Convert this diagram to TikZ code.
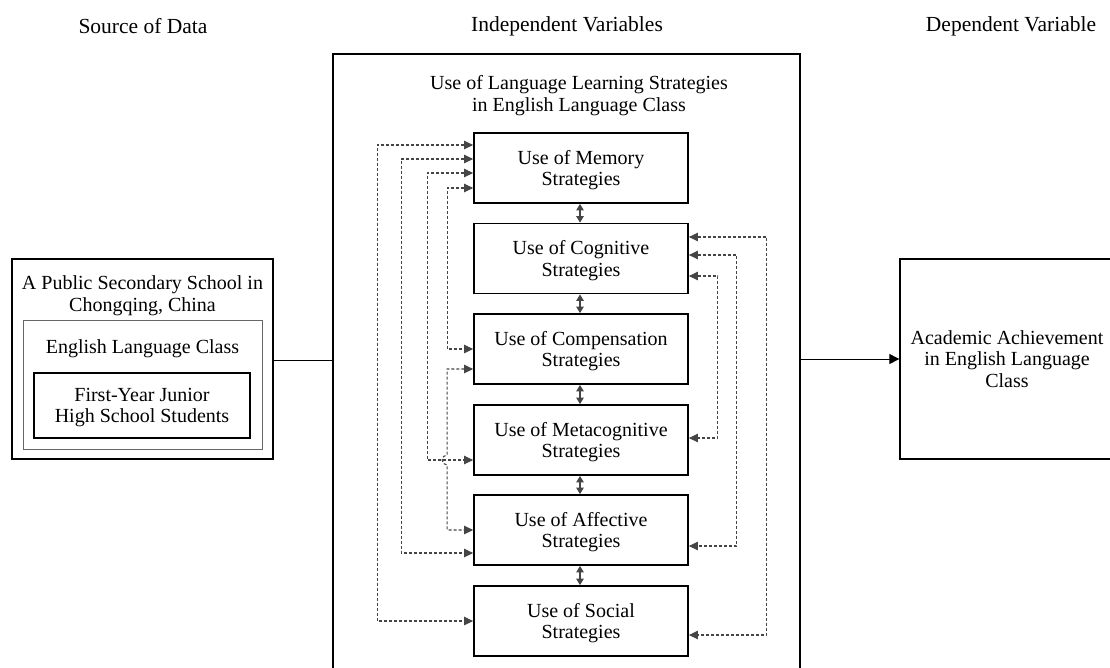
\documentclass[tikz,border=0pt]{standalone}
\usepackage{fontspec}
\setmainfont{Liberation Serif}
\usetikzlibrary{arrows.meta}
\definecolor{dgray}{HTML}{454545}
\tikzset{
  box/.style={draw=black, line width=1.3pt, inner sep=0pt, align=center},
  strat/.style={draw=black, line width=1.8pt, inner sep=0pt, align=center, minimum width=214pt, minimum height=70pt, text depth=-4pt},
  lbl/.style={inner sep=0pt, align=center},
  hdr/.style={inner sep=0pt, align=center, font=\fontsize{21.5}{23}\selectfont},
  dconn/.style={draw=dgray, line width=1.1pt, dash pattern=on 3pt off 2pt, {Triangle[length=9pt,width=8.5pt]}-{Triangle[length=9pt,width=8.5pt]}},
  dbl/.style={draw=dgray, line width=1.1pt, {Triangle[length=6.5pt,width=7.5pt]}-{Triangle[length=6.5pt,width=7.5pt]}},
}
\begin{document}
\begin{tikzpicture}[x=1pt,y=-1pt,font=\fontsize{20}{21.5}\selectfont]
\useasboundingbox (0,0) rectangle (1110,667);
\clip (0,0) rectangle (1110,667);
% headers
\node[hdr] (h1) at (143,26) {Source of Data};
\node[hdr] (h2) at (567,26) {Independent Variables};
\node[hdr] (h3) at (1011,26) {Dependent Variable};
% source of data
\node[box, minimum width=261pt, minimum height=200pt] (src) at (142.5,359) {};
\node[lbl] (srct) at (142.5,295.5) {A Public Secondary School in\\Chongqing, China};
\node[draw=black!60, line width=0.9pt, minimum width=239pt, minimum height=129pt, inner sep=0pt] (cls) at (142.5,384.5) {};
\node[lbl] (clst) at (142.5,349) {English Language Class};
\node[box, line width=1.5pt, minimum width=216pt, minimum height=65pt, text depth=-2.5pt] (stu) at (142,405.5) {First-Year Junior\\High School Students};
% main box
\node[box, minimum width=467pt, minimum height=656pt] (main) at (566.5,382) {};
\node[lbl] (maint) at (579,95.5) {Use of Language Learning Strategies\\in English Language Class};
% dependent variable
\node[box, minimum width=214pt, minimum height=200pt, text depth=-1pt] (dv) at (1007,359) {Academic Achievement\\in English Language\\Class};
% strategies
\node[strat] (mem) at (581,168) {Use of Memory\\Strategies};
\node[strat] (cog) at (581,258.5) {Use of Cognitive\\Strategies};
\node[strat] (com) at (581,349) {Use of Compensation\\Strategies};
\node[strat] (met) at (581,440) {Use of Metacognitive\\Strategies};
\node[strat] (aff) at (581,530) {Use of Affective\\Strategies};
\node[strat] (soc) at (581,621) {Use of Social\\Strategies};
% main connectors
\draw[line width=0.9pt] (src.east |- 0,360) -- (main.west |- 0,360);
\draw[line width=0.9pt, -{Triangle[length=10pt,width=10pt]}] (main.east |- dv.west) -- (dv.west);
% adjacent double arrows
\draw[dbl] ([xshift=-1pt]mem.south) -- ([xshift=-1pt]cog.north);
\draw[dbl] ([xshift=-1pt]cog.south) -- ([xshift=-1pt]com.north);
\draw[dbl] ([xshift=-1pt]com.south) -- ([xshift=-1pt]met.north);
\draw[dbl] ([xshift=-1pt]met.south) -- ([xshift=-1pt]aff.north);
\draw[dbl] ([xshift=-1pt]aff.south) -- ([xshift=-1pt]soc.north);
% left dashed connectors
\draw[dconn] ([yshift=23pt]mem.west) -- ++(-96,0) |- (soc.west);
\draw[dconn] ([yshift=9pt]mem.west) -- ++(-72,0) |- ([yshift=-23pt]aff.west);
\draw[dconn] ([yshift=-5pt]mem.west) -- ++(-46,0) |- ([yshift=-20pt]met.west);
\draw[dconn] ([yshift=-20pt]mem.west) -- ++(-26,0) |- (com.west);
\draw[dconn] ([yshift=-20pt]com.west) -- ++(-26,0) -- ++(0,86) arc[start angle=90,end angle=270,radius=5pt] |- (aff.west);
% right dashed connectors
\draw[dconn] ([yshift=21.5pt]cog.east) -- ++(78,0) |- ([yshift=-14pt]soc.east);
\draw[dconn] ([yshift=3.5pt]cog.east) -- ++(48,0) |- ([yshift=-16pt]aff.east);
\draw[dconn] ([yshift=-17.5pt]cog.east) -- ++(29,0) |- ([yshift=2pt]met.east);
\end{tikzpicture}
\end{document}
